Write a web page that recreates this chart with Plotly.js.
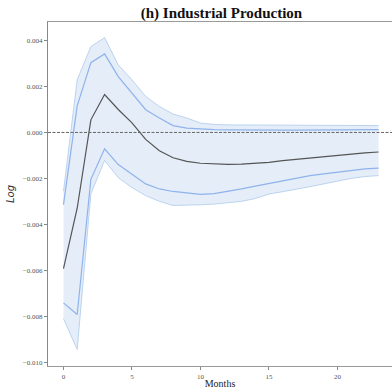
<!DOCTYPE html>
<html>
<head>
<meta charset="utf-8">
<script src="https://cdn.plot.ly/plotly-3.0.1.min.js"></script>
<style>html,body{margin:0;padding:0;background:#fff;}#chart{width:392px;height:389px;}</style>
</head>
<body>
<div id="chart"></div>
<script>
const months = [0,1,2,3,4,5,6,7,8,9,10,11,12,13,14,15,16,17,18,19,20,21,22,23];
const irf = [-0.00593,-0.00330,0.00055,0.00165,0.00100,0.00042,-0.00030,-0.00080,-0.00110,-0.00126,-0.00134,-0.00138,-0.00139,-0.00138,-0.00135,-0.00130,-0.00123,-0.00117,-0.00111,-0.00105,-0.00099,-0.00094,-0.00089,-0.00085];
const innerUpper = [-0.00314,0.00116,0.00304,0.00342,0.00243,0.00171,0.00099,0.00063,0.00030,0.00019,0.00015,0.00012,0.00011,0.00010,0.00010,0.00010,0.00010,0.00010,0.00010,0.00010,0.00010,0.00011,0.00011,0.00012];
const innerLower = [-0.00742,-0.00793,-0.00204,-0.00071,-0.00140,-0.00184,-0.00224,-0.00246,-0.00257,-0.00263,-0.00270,-0.00266,-0.00257,-0.00246,-0.00234,-0.00222,-0.00210,-0.00198,-0.00188,-0.00180,-0.00172,-0.00165,-0.00159,-0.00155];
const outerUpper = [-0.00256,0.00229,0.00374,0.00413,0.00294,0.00229,0.00157,0.00113,0.00080,0.00063,0.00041,0.00035,0.00033,0.00033,0.00032,0.00032,0.00031,0.00031,0.00031,0.00030,0.00030,0.00030,0.00030,0.00030];
const outerLower = [-0.00811,-0.00945,-0.00267,-0.00122,-0.00197,-0.00240,-0.00275,-0.00300,-0.00318,-0.00318,-0.00315,-0.00312,-0.00307,-0.00300,-0.00288,-0.00268,-0.00258,-0.00248,-0.00236,-0.00224,-0.00212,-0.00200,-0.00192,-0.00188];
const xTicks = [0,5,10,15,20];
const yTicks = [0.004,0.002,0.000,-0.002,-0.004,-0.006,-0.008,-0.010];

const bandEdge = 'rgba(170,200,235,0.75)';
const traces = [
  {x: months, y: outerLower, mode:'lines', line:{color:bandEdge, width:1}, hoverinfo:'skip', showlegend:false},
  {x: months, y: outerUpper, mode:'lines', line:{color:bandEdge, width:1}, fill:'tonexty', fillcolor:'rgba(205,223,242,0.55)', hoverinfo:'skip', showlegend:false},
  {x: months, y: innerUpper, mode:'lines', line:{color:'#8fb3ec', width:1.2}, showlegend:false},
  {x: months, y: innerLower, mode:'lines', line:{color:'#8fb3ec', width:1.2}, showlegend:false},
  {x: months, y: irf, mode:'lines', line:{color:'#555555', width:1.2}, showlegend:false}
];

const tickFont = {family:'"Liberation Serif", "DejaVu Serif", serif', size:7, color:'#555'};
const layout = {
  width: 392, height: 389,
  margin: {l:48, r:0, t:22, b:23},
  paper_bgcolor:'#fff', plot_bgcolor:'#fff',
  title: {text:'<b>(h) Industrial Production</b>', x:0.565, xanchor:'center', y:0.966, yanchor:'middle',
          font:{family:'"Liberation Serif", serif', size:15, color:'#111'}},
  xaxis: {range:[-1.13, 23.98], tickvals:xTicks, ticktext:xTicks.map(String),
          showgrid:false, zeroline:false, showline:true, linecolor:'#999', linewidth:1.2, mirror:true,
          ticks:'outside', ticklen:3, tickcolor:'#888', tickfont:tickFont,
          title:{text:'Months', standoff:0, font:{family:'"Liberation Serif", serif', size:10, color:'#222'}}},
  yaxis: {range:[-0.01017, 0.00481], tickvals:yTicks, tickformat:'.3f',
          showgrid:false, zeroline:false, showline:true, linecolor:'#888', linewidth:1.2,
          ticks:'outside', ticklen:3, tickcolor:'#888', tickfont:tickFont,
          title:{text:'<i>Log</i>', standoff:6, font:{family:'"DejaVu Sans", sans-serif', size:10, color:'#333'}}},
  shapes: [{type:'line', xref:'paper', x0:0, x1:1, yref:'y', y0:0, y1:0,
            line:{color:'#666', width:1, dash:'3px,1.5px'}}]
};
Plotly.newPlot('chart', traces, layout, {displayModeBar:false, staticPlot:true});
</script>
</body>
</html>
